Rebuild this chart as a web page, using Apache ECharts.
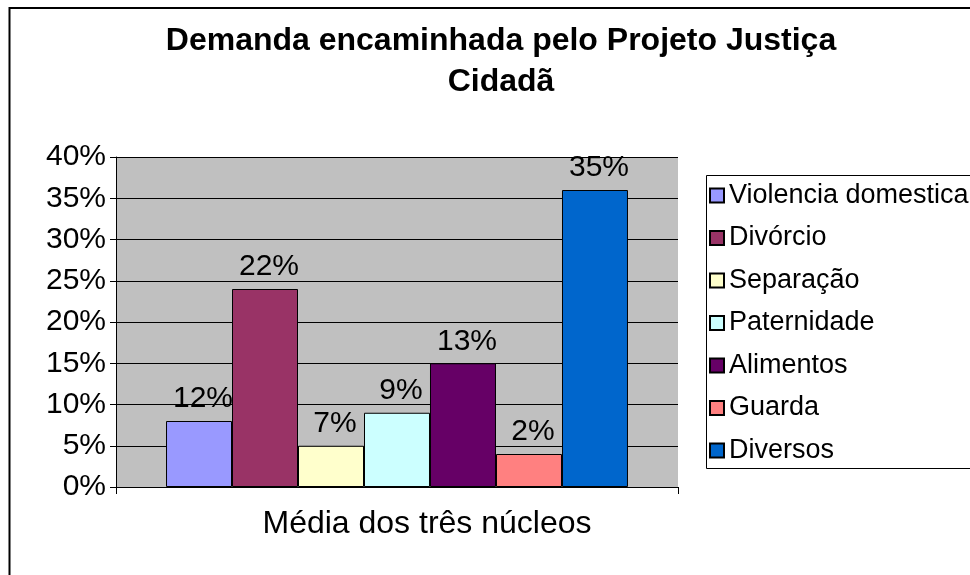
<!DOCTYPE html>
<html>
<head>
<meta charset="utf-8">
<script src="https://cdn.jsdelivr.net/npm/echarts@6/dist/echarts.min.js"></script>
<style>html,body{margin:0;padding:0;background:#fff}#c{width:970px;height:575px}</style>
</head>
<body>
<div id="c"></div>
<script>
const categories = ['Média dos três núcleos'];
const seriesNames = ['Violencia domestica','Divórcio','Separação','Paternidade','Alimentos','Guarda','Diversos'];
const barValues = [8, 24, 5, 9, 15, 4, 36];
const labelTexts = ['12%','22%','7%','9%','13%','2%','35%'];
const colors = ['#9999FF','#993366','#FFFFCC','#CCFFFF','#660066','#FF8080','#0066CC'];
const yTicks = {min: 0, max: 40, interval: 5};

const FONT = 'Liberation Sans, Arial, sans-serif';
const chart = echarts.init(document.getElementById('c'));
const series = seriesNames.map((n, i) => ({
  name: n,
  type: 'bar',
  data: [barValues[i]],
  barGap: '0%',
  barCategoryGap: '17.8%',
  itemStyle: {color: colors[i], borderColor: '#000', borderWidth: 1},
  label: {
    show: true, position: 'top', distance: 7, offset: [4, 0],
    formatter: () => labelTexts[i],
    fontFamily: FONT, fontSize: 30, color: '#000'
  },
  emphasis: {disabled: true}
}));
chart.setOption({
  animation: false,
  backgroundColor: '#fff',
  title: {
    text: 'Demanda encaminhada pelo Projeto Justiça\nCidadã',
    left: 496, top: 16, textAlign: 'center',
    textStyle: {fontFamily: FONT, fontSize: 32, fontWeight: 'bold', color: '#000', lineHeight: 41}
  },
  graphic: [{
    type: 'rect', silent: true, x: 0, y: 0, z: 0,
    shape: {x: 9.5, y: 8, width: 965, height: 580},
    style: {fill: 'none', stroke: '#000', lineWidth: 2}
  }, {
    type: 'rect', silent: true, x: 0, y: 0, z: 0,
    shape: {x: 706.5, y: 175.5, width: 280, height: 293},
    style: {fill: '#fff', stroke: '#000', lineWidth: 1}
  }],
  grid: {left: 116, right: 292, top: 157, bottom: 88, show: true, backgroundColor: '#C0C0C0', borderWidth: 0},
  legend: {
    orient: 'vertical', left: 706, top: 175, z: 5,
    padding: [7, 30, 5, 3],
    itemGap: 15.5, itemWidth: 14, itemHeight: 14,
    icon: 'rect',
    borderWidth: 0,
    textStyle: {fontFamily: FONT, fontSize: 27, color: '#000', padding: [0, 0, 0, 0]},
    data: seriesNames
  },
  xAxis: {
    type: 'category', data: categories,
    axisLine: {lineStyle: {color: '#000', width: 1}},
    axisTick: {show: true, length: 7, lineStyle: {color: '#000'}},
    axisLabel: {fontFamily: FONT, fontSize: 32, color: '#000', margin: 21, padding: [0, 0, 0, 60]}
  },
  yAxis: {
    type: 'value', min: yTicks.min, max: yTicks.max, interval: yTicks.interval,
    axisLine: {show: true, lineStyle: {color: '#000', width: 1}},
    axisTick: {show: true, length: 6, lineStyle: {color: '#000'}},
    splitLine: {lineStyle: {color: '#000', width: 1}},
    axisLabel: {formatter: '{value}%', fontFamily: FONT, fontSize: 30, color: '#000', margin: 10}
  },
  series: series
});
</script>
</body>
</html>
